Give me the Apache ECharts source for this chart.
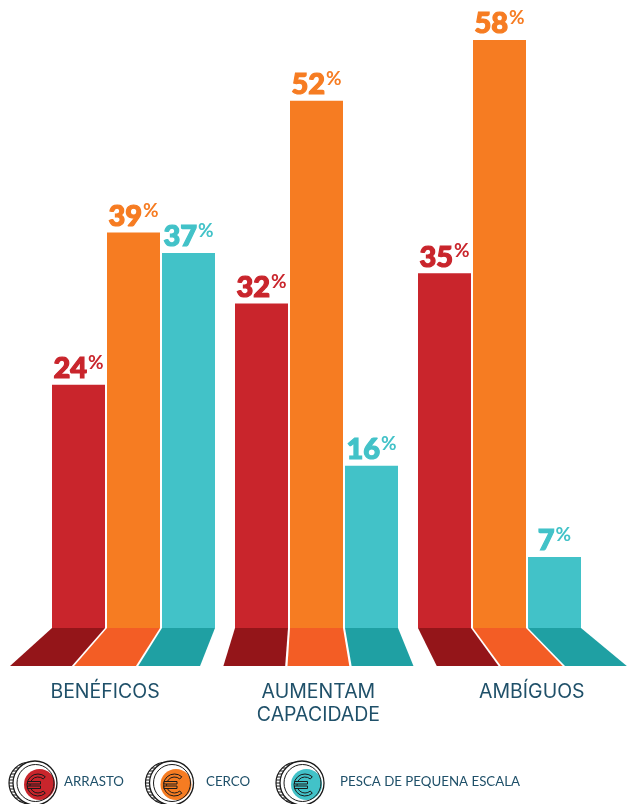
<!DOCTYPE html>
<html>
<head>
<meta charset="utf-8">
<style>html,body{margin:0;padding:0;background:#fff}#chart{width:627px;height:804px}</style>
<script src="https://cdn.jsdelivr.net/npm/echarts@6/dist/echarts.min.js"></script>
</head>
<body>
<div id="chart"></div>
<script>
// Share of studies per outcome and fishing gear (percent)
const categories = ['BENÉFICOS', 'AUMENTAM\nCAPACIDADE', 'AMBÍGUOS'];
const arrasto = [24, 32, 35];
const cerco = [39, 52, 58];
const pesca = [37, 16, 7];
const seriesNames = ['ARRASTO', 'CERCO', 'PESCA DE PEQUENA ESCALA'];
const barColors = ['#c9252c', '#f67c22', '#42c2c8'];
const floorColors = ['#941519', '#f35d25', '#1fa0a3'];

const BAR_W = 53, BAR_STEP = 55, FLOOR_H = 38;
const TEXT = '#1f5069';

// The floor under the bars is a perspective spread around a fixed centre.
const spread = x => 305 + (x - 305) * 1.166;

function valueLabel(color) {
  return {
    show: true,
    position: 'top',
    distance: 1,
    formatter: p => `{v|${p.value}}{p|%}`,
    rich: {
      v: {fontFamily: 'Lato', fontWeight: 900, fontSize: 29, color: color, lineHeight: 30, height: 30, textBorderColor: color, textBorderWidth: 1.2},
      p: {fontFamily: 'Lato', fontWeight: 700, fontSize: 19, color: color, lineHeight: 30, height: 30, padding: [0, 0, 12, 1]}
    }
  };
}

const barSeries = [arrasto, cerco, pesca].map((values, i) => ({
  name: seriesNames[i],
  type: 'bar',
  data: values,
  barWidth: BAR_W,
  barGap: ((BAR_STEP - BAR_W) / BAR_W * 100) + '%',
  itemStyle: {color: barColors[i]},
  label: valueLabel(barColors[i]),
  z: 3
}));

// One trapezoid per bar, projected down from the bar's foot.
const floorSeries = {
  type: 'custom',
  silent: true,
  data: categories.map((c, i) => [i, 0]),
  renderItem(params, api) {
    const c = api.coord([api.value(0), 0]);
    const shapes = floorColors.map((color, k) => {
      const x0 = c[0] + (k - 1) * BAR_STEP - BAR_W / 2;
      const x1 = x0 + BAR_W;
      return {
        type: 'polygon',
        shape: {points: [[x0, c[1]], [x1, c[1]], [spread(x1), c[1] + FLOOR_H], [spread(x0), c[1] + FLOOR_H]]},
        style: {fill: color}
      };
    });
    return {type: 'group', children: shapes};
  },
  z: 2
};

// Category captions sit under the centre of each spread floor.
const captionSeries = {
  type: 'custom',
  silent: true,
  data: categories.map((c, i) => [i, 0]),
  renderItem(params, api) {
    const i = api.value(0);
    const c = api.coord([i, 0]);
    return {
      type: 'text',
      style: {
        text: categories[i],
        x: spread(c[0]),
        y: c[1] + 53,
        align: 'center',
        verticalAlign: 'top',
        fontFamily: 'Inter',
        fontSize: 19.5,
        lineHeight: 23,
        fill: TEXT
      }
    };
  },
  z: 2
};

// Coin pictogram: ridged rear rim, front face, coloured blot and euro mark.
function coin(cx, cy, color) {
  const stroke = '#1a1a1a';
  const backX = cx - 5, backR = 21, faceR = 22;
  const ridges = [];
  for (let dy = -18; dy <= 18; dy += 3) {
    ridges.push({
      type: 'line',
      shape: {
        x1: backX - Math.sqrt(backR * backR - dy * dy), y1: cy + dy,
        x2: cx - Math.sqrt(faceR * faceR - dy * dy), y2: cy + dy
      },
      style: {stroke, lineWidth: 1}
    });
  }
  const ex = cx + 3, ey = cy + 2;
  return {
    type: 'group',
    silent: true,
    children: [
      {type: 'circle', shape: {cx: backX, cy, r: backR}, style: {fill: '#fff', stroke, lineWidth: 1.2}},
      ...ridges,
      {type: 'circle', shape: {cx, cy, r: faceR}, style: {fill: '#fff', stroke, lineWidth: 1.3}},
      {type: 'circle', shape: {cx: cx + 4.5, cy: cy + 1.5, r: 15.5}, style: {fill: color}},
      {type: 'circle', shape: {cx: cx + 0.5, cy, r: 18.5}, style: {fill: 'none', stroke, lineWidth: 1}},
      {
        type: 'sector',
        shape: {cx: ex, cy: ey, r: 11, r0: 8, startAngle: Math.PI * 0.27, endAngle: Math.PI * 1.73, clockwise: true},
        style: {fill: 'none', stroke, lineWidth: 1}
      },
      {type: 'rect', shape: {x: ex - 10.5, y: ey - 3.5, width: 13, height: 2.5}, style: {fill: color, stroke, lineWidth: 1}},
      {type: 'rect', shape: {x: ex - 10.5, y: ey + 1, width: 13, height: 2.5}, style: {fill: color, stroke, lineWidth: 1}}
    ]
  };
}

const legendLefts = [64, 206, 340];
const coinCenters = [35, 171.5, 302];

const chart = echarts.init(document.getElementById('chart'), null, {renderer: 'canvas'});
chart.setOption({
  animation: false,
  backgroundColor: '#ffffff',
  grid: {left: 42, width: 549, top: 40, height: 588, containLabel: false},
  xAxis: {type: 'category', data: categories, show: false},
  yAxis: {type: 'value', min: 0, max: 58, show: false},
  legend: seriesNames.map((name, i) => ({
    data: [{name, icon: 'none'}],
    left: legendLefts[i],
    top: 775,
    padding: 0,
    itemWidth: 0,
    itemHeight: 0,
    itemGap: 0,
    selectedMode: false,
    textStyle: {fontFamily: 'Lato', fontSize: 13.3, color: TEXT, padding: [0, 0, 0, -5]}
  })),
  series: [floorSeries, captionSeries, ...barSeries],
  graphic: coinCenters.map((x, i) => coin(x, 783, barColors[i]))
});
</script>
</body>
</html>
